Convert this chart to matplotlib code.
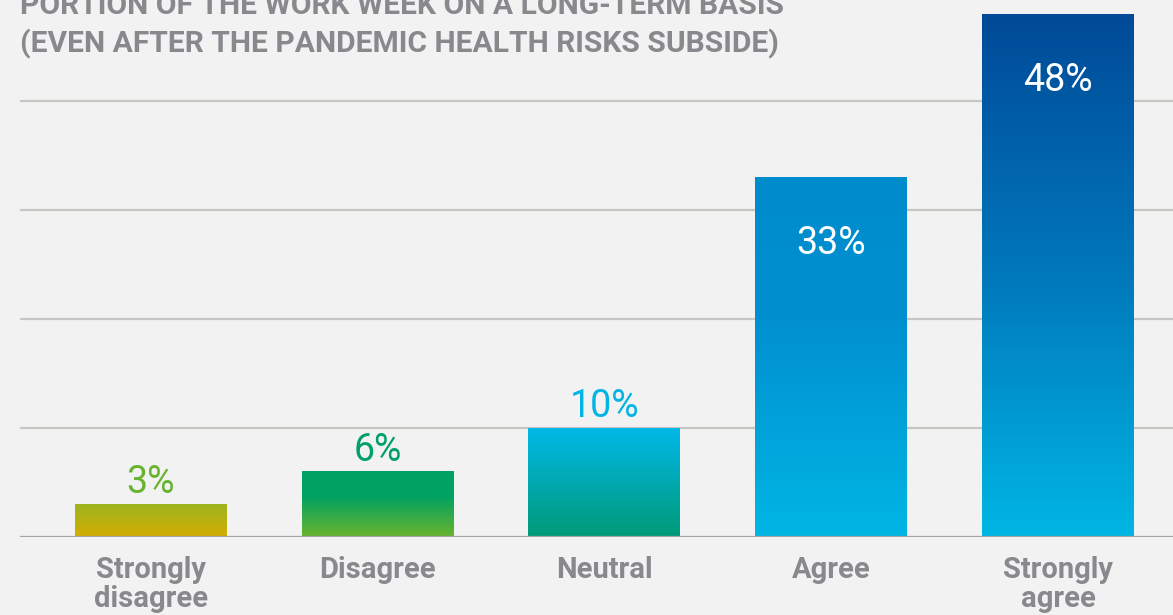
import numpy as np
import matplotlib
matplotlib.use("Agg")
import matplotlib.pyplot as plt
from matplotlib.colors import LinearSegmentedColormap

# chart data
categories = ["Strongly\ndisagree", "Disagree", "Neutral", "Agree", "Strongly\nagree"]
values = [3, 6, 10, 33, 48]
labels = ["3%", "6%", "10%", "33%", "48%"]

# gradient stops per bar: (position from bottom, colour)
gradients = [
    [(0.0, "#d5ac00"), (1.0, "#9db520")],
    [(0.0, "#6ab42e"), (0.62, "#00a262"), (1.0, "#00a264")],
    [(0.0, "#009a78"), (1.0, "#00b8e8")],
    [(0.0, "#00b6e4"), (0.6, "#0090d0"), (1.0, "#008ccc")],
    [(0.0, "#00b6e4"), (0.5, "#0078bc"), (1.0, "#004a98")],
]
label_colors = ["#67b32e", "#00a06c", "#00b4e4", "white", "white"]
label_inside = [False, False, False, True, True]

bg = "#f2f2f2"
grey_text = "#89888d"

fig = plt.figure(figsize=(11.73, 6.15), dpi=100, facecolor=bg)
ax = fig.add_axes([20 / 1173, 78 / 615, 1 - 20 / 1173, 537 / 615])
ax.set_facecolor(bg)

x = np.arange(len(values))
width = 0.67
bars = ax.bar(x, values, width=width, color=[g[-1][1] for g in gradients], zorder=2)

# paint gradients into each bar
for bar, stops in zip(bars, gradients):
    cmap = LinearSegmentedColormap.from_list("g", stops)
    grad = np.linspace(0, 1, 256).reshape(-1, 1)
    x0, y0 = bar.get_x(), bar.get_y()
    ax.imshow(grad, cmap=cmap, origin="lower", aspect="auto", zorder=3,
              extent=[x0, x0 + bar.get_width(), y0, y0 + bar.get_height()],
              interpolation="bicubic")

ax.set_xlim(-0.577, 4.507)
ax.set_ylim(0, 49.3)

# grid lines
for gy in [10, 20, 30, 40]:
    ax.axhline(gy, color="#c9c5c3", lw=1.6, zorder=1)
ax.axhline(0, color="#a3a2a4", lw=1.6, zorder=4)

for s in ax.spines.values():
    s.set_visible(False)
ax.set_yticks([])
ax.set_xticks(x)
ax.set_xticklabels(categories, fontsize=21, fontweight="bold", color=grey_text,
                   family="Roboto", linespacing=1.02)
ax.tick_params(axis="x", length=0, pad=14)

# value labels
for xi, v, lab, col, inside in zip(x, values, labels, label_colors, label_inside):
    if inside:
        ax.annotate(lab, (xi, v), xytext=(0, -55), textcoords="offset points",
                    ha="center", va="baseline", fontsize=27, color=col,
                    family="Roboto", zorder=5)
    else:
        ax.annotate(lab, (xi, v), xytext=(0, 8), textcoords="offset points",
                    ha="center", va="baseline", fontsize=27, color=col,
                    family="Roboto", zorder=5)

# title (top line is cropped in the original)
fig.text(20 / 1173, 1 - 14 / 615, "PORTION OF THE WORK WEEK ON A LONG-TERM BASIS",
         ha="left", va="baseline", fontsize=21.6, fontweight="bold", color=grey_text,
         family="Roboto")
fig.text(20 / 1173, 1 - 52 / 615, "(EVEN AFTER THE PANDEMIC HEALTH RISKS SUBSIDE)",
         ha="left", va="baseline", fontsize=21.6, fontweight="bold", color=grey_text,
         family="Roboto")

fig.savefig("out.png", dpi=100, facecolor=bg)
